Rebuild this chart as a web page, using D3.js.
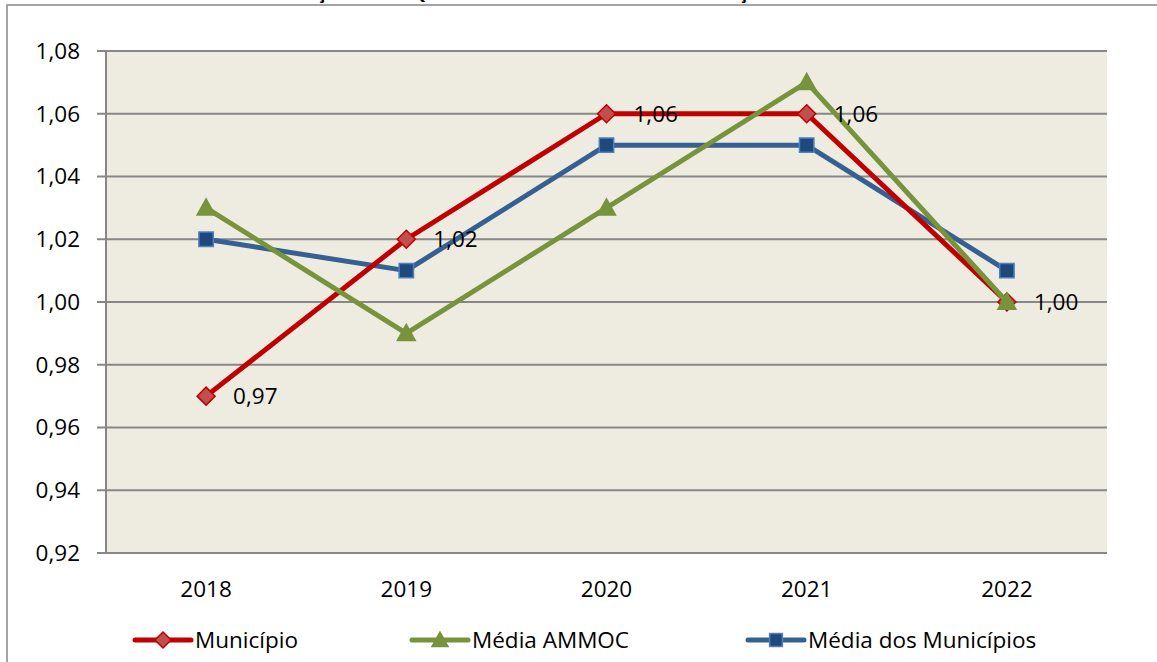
<!DOCTYPE html>
<html>
<head>
<meta charset="utf-8">
<script src="https://cdn.jsdelivr.net/npm/d3@7"></script>
<style>
  body { margin: 0; background: #fff; }
  svg { display: block; font-family: "Open Sans", sans-serif; }
</style>
</head>
<body>
<div id="chart"></div>
<script>
// data
const years = ["2018", "2019", "2020", "2021", "2022"];
const municipio = [0.97, 1.02, 1.06, 1.06, 1.00];
const mediaAmmoc = [1.03, 0.99, 1.03, 1.07, 1.00];
const mediaMunicipios = [1.02, 1.01, 1.05, 1.05, 1.01];
const yTicks = [0.92, 0.94, 0.96, 0.98, 1.00, 1.02, 1.04, 1.06, 1.08];
const titleText = "Gráfico 35 – Evolução dos Quocientes do Resultado Orçamentário – 2018 a 2022";

const series = [
    { name: "Média dos Municípios", values: mediaMunicipios, line: "#376092", fill: "#1F497D", stroke: "#4F81BD", marker: "square", labels: false },
    { name: "Município", values: municipio, line: "#C00000", fill: "#C0504D", stroke: "#C00000", marker: "diamond", labels: true },
    { name: "Média AMMOC", values: mediaAmmoc, line: "#77933C", fill: "#77933C", stroke: "#77933C", marker: "triangle", labels: false }
];
const legendOrder = ["Município", "Média AMMOC", "Média dos Municípios"];

const W = 1157, H = 662;
const plot = { left: 106, right: 1107, top: 51, bottom: 553 };
const fs = 22.5;

const svg = d3.select("#chart").append("svg")
    .attr("width", W)
    .attr("height", H);

// title, mostly cut off at the top edge
svg.append("text")
    .attr("x", 110)
    .attr("y", -1.5)
    .attr("textLength", 920)
    .attr("font-size", 18)
    .attr("font-weight", "bold")
    .attr("fill", "#000")
    .text(titleText);

// outer frame
svg.append("rect")
    .attr("x", 7).attr("y", 5)
    .attr("width", W + 10).attr("height", H + 10)
    .attr("fill", "none")
    .attr("stroke", "#868686")
    .attr("stroke-width", 1.5);

const x = d3.scaleBand()
    .domain(years)
    .range([plot.left, plot.right]);

const y = d3.scaleLinear()
    .domain([0.92, 1.08])
    .range([plot.bottom, plot.top]);

const fmt = v => d3.format(".2f")(v).replace(".", ",");

// plot background
svg.append("rect")
    .attr("x", plot.left).attr("y", plot.top)
    .attr("width", plot.right - plot.left)
    .attr("height", plot.bottom - plot.top)
    .attr("fill", "#EEECE1");

// gridlines
svg.append("g")
    .selectAll("line")
    .data(yTicks)
    .join("line")
    .attr("x1", plot.left - 9)
    .attr("x2", plot.right)
    .attr("y1", d => y(d))
    .attr("y2", d => y(d))
    .attr("stroke", "#878787")
    .attr("stroke-width", 2);

// y axis line
svg.append("line")
    .attr("x1", plot.left).attr("x2", plot.left)
    .attr("y1", plot.top).attr("y2", plot.bottom)
    .attr("stroke", "#878787")
    .attr("stroke-width", 2);

// y tick labels
svg.append("g")
    .selectAll("text")
    .data(yTicks)
    .join("text")
    .attr("x", 80)
    .attr("y", d => y(d))
    .attr("dy", "0.35em")
    .attr("text-anchor", "end")
    .attr("font-size", fs)
    .attr("fill", "#000")
    .text(d => fmt(d));

// x labels
svg.append("g")
    .selectAll("text")
    .data(years)
    .join("text")
    .attr("x", d => x(d) + x.bandwidth() / 2)
    .attr("y", 589)
    .attr("dy", "0.35em")
    .attr("text-anchor", "middle")
    .attr("font-size", fs)
    .attr("fill", "#000")
    .text(d => d);

const cx = i => x(years[i]) + x.bandwidth() / 2;

function markerPath(type, s) {
    if (type === "diamond") return `M0,${-s}L${s},0L0,${s}L${-s},0Z`;
    if (type === "square") return `M${-s * 0.8},${-s * 0.8}H${s * 0.8}V${s * 0.8}H${-s * 0.8}Z`;
    return `M0,${-s}L${s},${s * 0.8}H${-s}Z`;
}

const line = d3.line()
    .x((d, i) => cx(i))
    .y(d => y(d));

series.forEach(s => {
    const g = svg.append("g");
    g.append("path")
        .datum(s.values)
        .attr("d", line)
        .attr("fill", "none")
        .attr("stroke", s.line)
        .attr("stroke-width", 5)
        .attr("stroke-linejoin", "round");
    g.selectAll(".mk")
        .data(s.values)
        .join("path")
        .attr("transform", (d, i) => `translate(${cx(i)},${y(d)})`)
        .attr("d", markerPath(s.marker, 9))
        .attr("fill", s.fill)
        .attr("stroke", s.stroke)
        .attr("stroke-width", 1.5);
});

// data labels for Município
const mun = series.find(s => s.labels);
svg.append("g")
    .selectAll("text")
    .data(mun.values)
    .join("text")
    .attr("x", (d, i) => cx(i) + 27)
    .attr("y", d => y(d))
    .attr("dy", "0.35em")
    .attr("font-size", fs)
    .attr("fill", "#000")
    .text(d => fmt(d));

// legend
const legendX = [135, 412, 748];
legendOrder.forEach((name, i) => {
    const s = series.find(d => d.name === name);
    const g = svg.append("g").attr("transform", `translate(${legendX[i]},640)`);
    g.append("line")
        .attr("x1", 0).attr("x2", 56)
        .attr("stroke", s.line)
        .attr("stroke-width", 5)
        .attr("stroke-linecap", "round");
    g.append("path")
        .attr("transform", "translate(28,0)")
        .attr("d", markerPath(s.marker, 8))
        .attr("fill", s.fill)
        .attr("stroke", s.stroke)
        .attr("stroke-width", 1.5);
    g.append("text")
        .attr("x", 60)
        .attr("dy", "0.35em")
        .attr("font-size", fs)
        .attr("fill", "#000")
        .text(name);
});
</script>
</body>
</html>
